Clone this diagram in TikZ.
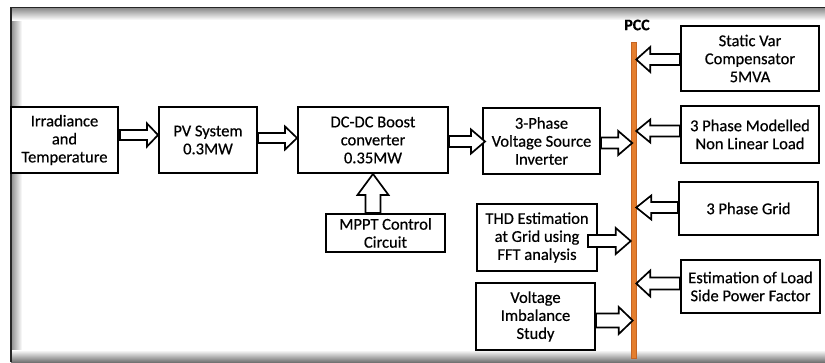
\documentclass[tikz,border=0pt]{standalone}
\usepackage{fontspec}
\setmainfont{Carlito}[FakeBold=0.5]
\usetikzlibrary{calc}

\definecolor{busorange}{RGB}{228,126,46}
\definecolor{busedge}{RGB}{196,100,36}

\tikzset{
  box/.style={draw, line width=1.9pt, fill=white, align=center, inner sep=0pt,
              font=\fontsize{16.5}{18}\selectfont},
  blockarrow/.style={draw, line width=1.7pt, fill=white, line join=miter},
  busbar/.style={draw=busedge, line width=0.5pt, fill=busorange, inner sep=0pt,
                 minimum width=5pt, minimum height=316pt},
  buslabel/.style={font=\bfseries\fontsize{16}{18}\selectfont},
}

% horizontal block arrow: tail point, tip point, centre-line y, shaft half width,
% head half width, signed head length (negative when pointing left)
\newcommand\hblock[6]{%
  \draw[blockarrow] let \p1=(#1), \p2=(#2), \p3=(0,#3) in
    ({\x1},{\y3-#4}) -- ({\x2-(#6)},{\y3-#4}) -- ({\x2-(#6)},{\y3-#5}) -- ({\x2},{\y3})
    -- ({\x2-(#6)},{\y3+#5}) -- ({\x2-(#6)},{\y3+#4}) -- ({\x1},{\y3+#4}) -- cycle;}

% upward block arrow: tail point, tip point, centre-line x, shaft half width,
% head half width, head length
\newcommand\vblock[6]{%
  \draw[blockarrow] let \p1=(#1), \p2=(#2), \p3=(#3,0) in
    ({\x3-#4},{\y1}) -- ({\x3-#4},{\y2-#6}) -- ({\x3-#5},{\y2-#6}) -- ({\x3},{\y2})
    -- ({\x3+#5},{\y2-#6}) -- ({\x3+#4},{\y2-#6}) -- ({\x3+#4},{\y1}) -- cycle;}

\begin{document}
\begin{tikzpicture}[x=1pt, y=-1pt]
\useasboundingbox (0,0) rectangle (825,362);

% frame with inner shadow
\shade[left color=black!45, right color=white] (11,8) rectangle (22,362);
\shade[top color=black!45, bottom color=white] (11,8) rectangle (825,20);
\shade[top color=white, bottom color=black!55] (11,350) rectangle (825,362);
\draw[line width=1.6pt, black!85] (10.8,362) -- (10.8,7.6) -- (825,7.6);

% blocks
\node[box, minimum width=107pt, minimum height=66pt] (irr)  at (64.5,140) {Irradiance\\and\\Temperature};
\node[box, minimum width=98pt,  minimum height=66pt] (pv)   at (208,140)  {PV System\\0.3MW};
\node[box, minimum width=150pt, minimum height=66pt] (dc)   at (373,140)  {DC-DC Boost\\converter\\0.35MW};
\node[box, minimum width=117pt, minimum height=66pt] (vsi)  at (541.5,141) {3-Phase\\Voltage Source\\Inverter};
\node[box, minimum width=119pt, minimum height=38pt] (mppt) at (385.5,233) {MPPT Control\\Circuit};
\node[box, minimum width=120pt, minimum height=67pt] (thd)  at (537,237.5) {THD Estimation\\at Grid using\\FFT analysis};
\node[box, minimum width=119pt, minimum height=67pt] (vi)   at (535.5,316.5) {Voltage\\Imbalance\\Study};
\node[box, minimum width=138pt, minimum height=65pt] (svc)  at (750,58.5)  {Static Var\\Compensator\\5MVA};
\node[box, minimum width=138pt, minimum height=57pt] (nll)  at (750,134.5) {3 Phase Modelled\\Non Linear Load};
\node[box, minimum width=139pt, minimum height=53pt] (grid) at (748.5,208.5) {3 Phase Grid};
\node[box, minimum width=139pt, minimum height=53pt] (est)  at (750.5,286.5) {Estimation of Load\\Side Power Factor};

% point of common coupling
\node[busbar] (pcc) at (633.5,200) {};
\node[buslabel] (pcclabel) at (637,25) {PCC};

% power flow arrows
\hblock{[xshift=1pt]irr.east}{pv.west}{135}{5pt}{11.5pt}{11pt}
\hblock{pv.east}{dc.west}{138}{5pt}{11.5pt}{12pt}
\hblock{dc.east}{[xshift=3pt]vsi.west}{141.5}{5.5pt}{12pt}{14pt}
\hblock{vsi.east}{[xshift=1.5pt]pcc.west}{143}{5.5pt}{12pt}{14pt}
\vblock{mppt.north}{dc.south}{373}{7.5pt}{15.5pt}{21pt}
\hblock{[xshift=-10pt]thd.east}{pcc.west}{241}{6pt}{13pt}{15pt}
\hblock{vi.east}{[xshift=2pt]pcc.west}{320.5}{7pt}{13.5pt}{14pt}
\hblock{svc.west}{pcc.east}{59.5}{5.5pt}{12.5pt}{-14pt}
\hblock{nll.west}{pcc.east}{131}{5.5pt}{11.5pt}{-14pt}
\hblock{grid.west}{pcc.east}{207.5}{5.5pt}{12pt}{-15pt}
\hblock{est.west}{pcc.east}{283.5}{6pt}{13pt}{-14pt}
\end{tikzpicture}
\end{document}
